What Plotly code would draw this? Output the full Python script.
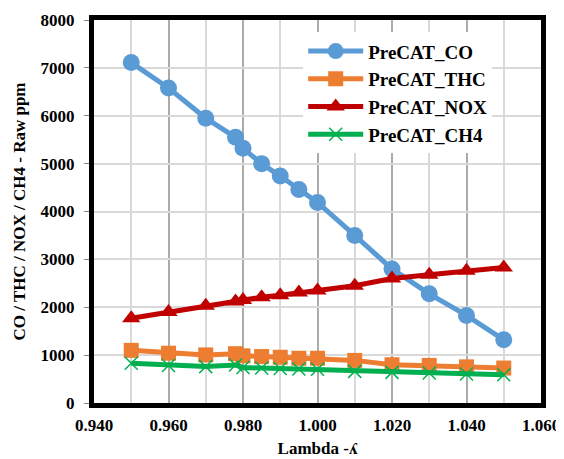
import plotly.graph_objects as go

lam = [0.950, 0.960, 0.970, 0.978, 0.980, 0.985, 0.990, 0.995, 1.000, 1.010, 1.020, 1.030, 1.040, 1.050]
co = [7110, 6580, 5950, 5550, 5320, 5000, 4740, 4460, 4190, 3500, 2800, 2280, 1830, 1320]
thc = [1100, 1040, 1005, 1030, 985, 970, 955, 935, 935, 890, 800, 785, 755, 730]
nox = [1770, 1900, 2030, 2120, 2150, 2210, 2250, 2310, 2350, 2450, 2600, 2680, 2760, 2830]
ch4 = [830, 785, 760, 795, 740, 730, 720, 710, 705, 660, 640, 625, 605, 590]

names = ["PreCAT_CO", "PreCAT_THC", "PreCAT_NOX", "PreCAT_CH4"]
colors = ["#5B9BD5", "#ED7D31", "#C00000", "#00B050"]
symbols = ["circle", "square", "triangle-up", "x-thin"]
sizes = [17, 15, 16, 13]

fig = go.Figure()
for name, ys, c, s, sz in zip(names, [co, thc, nox, ch4], colors, symbols, sizes):
    marker = dict(symbol=s, size=sz, color=c)
    if s == "x-thin":
        marker["line"] = dict(color=c, width=1.5)
    fig.add_trace(go.Scatter(x=lam, y=ys, name=name, mode="lines+markers",
                             line=dict(color=c, width=5), marker=marker))

font = "Liberation Serif"
fig.update_layout(
    width=564, height=459,
    margin=dict(l=86, r=31, t=12, b=64, autoexpand=False),
    paper_bgcolor="white", plot_bgcolor="white",
    font=dict(family=font, size=17, color="black"),
    legend=dict(x=0.468, y=0.968, xanchor="left", yanchor="top",
                bgcolor="white", font=dict(family=font, size=19, color="black", weight="bold"),
                itemwidth=55),
    xaxis=dict(range=[0.94, 1.06], dtick=0.02, tick0=0.94, tickformat=".3f",
               automargin=False,
               showgrid=True, gridcolor="#ABABAB", gridwidth=1.5,
               minor=dict(dtick=0.01, tick0=0.94, showgrid=True, gridcolor="#D9D9D9", gridwidth=1.5),
               showline=True, linecolor="black", linewidth=5, mirror=True,
               ticks="", ticklabelstandoff=3, tickfont=dict(family=font, size=17, weight="bold"),
               title=dict(text="Lambda -ʎ", font=dict(family=font, size=17, weight="bold"), standoff=9),
               zeroline=False),
    yaxis=dict(range=[0, 8000], dtick=1000,
               automargin=False,
               showgrid=True, gridcolor="#D9D9D9", gridwidth=1.5,
               showline=True, linecolor="black", linewidth=5, mirror=True,
               ticks="outside", ticklen=5, tickcolor="#888888", ticklabelstandoff=6,
               tickfont=dict(family=font, size=17, weight="bold"),
               title=dict(text="CO / THC / NOX / CH4 - Raw ppm", font=dict(family=font, size=17, weight="bold"), standoff=12),
               zeroline=False),
)
fig.write_html("out.html")
